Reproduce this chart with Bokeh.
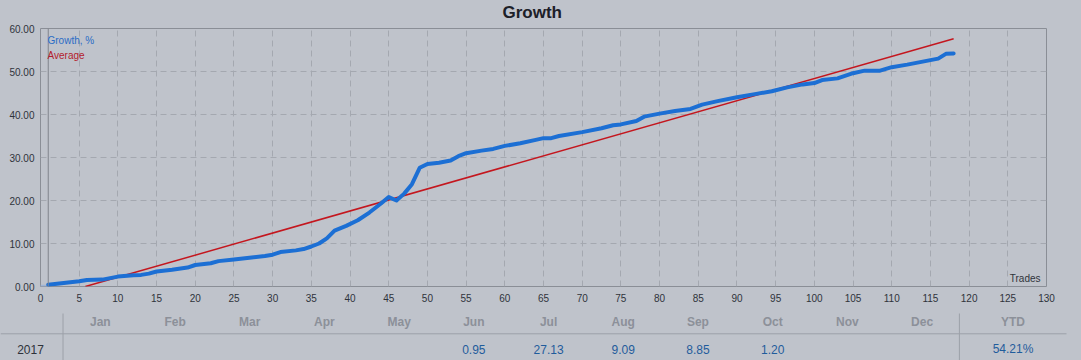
from bokeh.plotting import figure
from bokeh.models import (Range1d, FixedTicker, PrintfTickFormatter, Label, Span,
                          ColumnDataSource)
from bokeh.layouts import column
from bokeh.core.properties import value
from bokeh.embed import file_html
from bokeh.resources import INLINE

# ---------------- data ----------------
trades = [1, 3, 5, 6, 8, 10, 12, 13, 14, 15, 17, 19, 20, 22, 23, 25, 27, 29, 30,
          31, 33, 34, 35, 36, 37, 38, 39.5, 41, 42.5, 44, 45, 46, 47, 48, 49, 50,
          51.5, 53, 54, 55, 57, 58.5, 60, 62, 64, 65, 66, 67, 70, 72.5, 74, 75,
          77, 78, 80, 82, 84, 85.5, 87.5, 90, 92.5, 94.5, 96.5, 98.5, 100, 101,
          103, 105, 106.5, 108.5, 110, 112, 114, 116, 117, 118]
growth = [0.4, 0.8, 1.2, 1.5, 1.6, 2.3, 2.6, 2.7, 3.0, 3.5, 3.9, 4.4, 5.0, 5.4,
          5.9, 6.3, 6.7, 7.1, 7.4, 8.0, 8.4, 8.7, 9.3, 10.0, 11.2, 13.0, 14.1,
          15.4, 17.2, 19.3, 20.8, 20.0, 21.6, 23.8, 27.6, 28.5, 28.8, 29.3, 30.3,
          31.0, 31.6, 32.0, 32.7, 33.3, 34.1, 34.5, 34.5, 35.0, 35.9, 36.8, 37.5,
          37.7, 38.5, 39.5, 40.2, 40.8, 41.3, 42.3, 43.1, 44.0, 44.8, 45.4, 46.3,
          47.0, 47.3, 48.0, 48.4, 49.6, 50.2, 50.2, 51.0, 51.6, 52.3, 53.0, 54.1,
          54.2]
avg_trades = [5.8, 118]
avg_growth = [0.0, 57.6]

x_ticks = list(range(0, 131, 5))
y_ticks = [0, 10, 20, 30, 40, 50, 60]

title_text = "Growth"
months = ["Jan", "Feb", "Mar", "Apr", "May", "Jun", "Jul", "Aug", "Sep", "Oct", "Nov", "Dec"]
month_values = ["", "", "", "", "", "0.95", "27.13", "9.09", "8.85", "1.20", "", ""]
year_label = "2017"
ytd_label = "54.21%"

# ---------------- style ----------------
BG = "#bfc3cb"
GRID = "#a4a8b0"
FRAME = "#8a8e96"
BLUE = "#1c6fd4"
RED = "#c4161e"
FONT = "Liberation Sans"


def bare(fig):
    fig.background_fill_color = BG
    fig.border_fill_color = BG
    fig.outline_line_color = None
    fig.xgrid.visible = False
    fig.ygrid.visible = False
    fig.frame_align = False


# ---------------- header (title) ----------------
h = figure(width=1081, height=22, output_backend="svg", toolbar_location=None,
           x_range=Range1d(0, 1081), y_range=Range1d(22, 0),
           x_axis_location=None, y_axis_location=None, min_border=0)
bare(h)
h.text([531.7], [11.5], text=[title_text], text_font=value(FONT), text_font_size="17px",
       text_font_style="bold", text_color="#1c2028", text_align="center",
       text_baseline="middle", text_line_height=1.0)

# ---------------- chart ----------------
p = figure(width=1081, height=286, output_backend="svg", toolbar_location=None,
           x_range=Range1d(0, 130), y_range=Range1d(0, 60),
           min_border_left=40, min_border_right=35, min_border_top=6,
           min_border_bottom=22)
p.frame_align = False
p.background_fill_color = BG
p.border_fill_color = BG
p.outline_line_color = FRAME
p.outline_line_width = 1

p.xaxis.ticker = FixedTicker(ticks=x_ticks)
p.yaxis.ticker = FixedTicker(ticks=y_ticks)
p.yaxis.formatter = PrintfTickFormatter(format="%.2f")
for ax in (p.xaxis, p.yaxis):
    ax.axis_line_color = None
    ax.major_tick_line_color = None
    ax.minor_tick_line_color = None
    ax.major_tick_out = 0
    ax.major_tick_in = 0
    ax.major_label_text_font = FONT
    ax.major_label_text_font_size = "10px"
    ax.major_label_text_color = "#2f333b"
    ax.major_label_text_line_height = 1.0
p.yaxis.major_label_standoff = 6
p.xaxis.major_label_standoff = 7

p.xgrid.ticker = FixedTicker(ticks=x_ticks[1:-1])
p.ygrid.ticker = FixedTicker(ticks=y_ticks[1:-1])
for g in (p.xgrid, p.ygrid):
    g.grid_line_color = GRID
    g.grid_line_dash = "6 4"
    g.grid_line_width = 1

p.add_layout(Span(location=1, dimension="height", line_color="#80848c", line_width=1))

p.line([0, 1], [0.15, 0.15], line_color="#9fb4d4", line_width=2)
p.line(avg_trades, avg_growth, line_color=RED, line_width=1.5)
p.line(trades, growth, line_color=BLUE, line_width=4, line_join="round", line_cap="round")

p.add_layout(Label(x=7, y=246.5, x_units="screen", y_units="screen", text="Growth, %",
                   text_font=FONT, text_font_size="10px", text_color="#2a6cc6",
                   text_baseline="middle"))
p.add_layout(Label(x=7, y=231.5, x_units="screen", y_units="screen", text="Average",
                   text_font=FONT, text_font_size="10px", text_color="#b41c2c",
                   text_baseline="middle"))
p.add_layout(Label(x=1000, y=8.5, x_units="screen", y_units="screen", text="Trades",
                   text_font=FONT, text_font_size="10px", text_color="#2f333b",
                   text_baseline="middle", text_align="right"))

# ---------------- table ----------------
t = figure(width=1081, height=52, output_backend="svg", toolbar_location=None,
           x_range=Range1d(0, 1081), y_range=Range1d(360, 308),
           x_axis_location=None, y_axis_location=None, min_border=0)
bare(t)

col_left = 62.5
col_w = 74.7
ytd_x = 1012.5
centers = [col_left + (i + 0.5) * col_w for i in range(len(months))]

hdr = ColumnDataSource(dict(x=centers + [ytd_x], y=[321.5] * 13, text=months + ["YTD"]))
t.text("x", "y", text="text", source=hdr, text_font=value(FONT), text_font_size="12px",
       text_font_style="bold", text_color="#8c9099", text_align="center",
       text_baseline="middle")

vx = [c for c, v in zip(centers, month_values) if v] + [ytd_x]
vt = [v for v in month_values if v] + [ytd_label]
vals = ColumnDataSource(dict(x=vx, y=[348.5] * len(vx), text=vt))
t.text("x", "y", text="text", source=vals, text_font=value(FONT), text_font_size="12px",
       text_color="#1f5c9c", text_align="center", text_baseline="middle")
t.text([30], [348.5], text=[year_label], text_font=value(FONT), text_font_size="12px",
       text_color="#2e323a", text_align="center", text_baseline="middle")

t.segment(x0=[0, col_left, col_left + 12 * col_w], y0=[333.3, 313, 313],
          x1=[1066, col_left, col_left + 12 * col_w], y1=[333.3, 360, 360],
          line_color="#9ca0a8", line_width=1)

layout = column(h, p, t, spacing=0)
try:
    from bokeh.models import GlobalInlineStyleSheet
    layout.stylesheets = [GlobalInlineStyleSheet(css="body { background: #bfc3cb; }")]
except Exception:
    pass

open("out.html", "w").write(file_html(layout, INLINE))
